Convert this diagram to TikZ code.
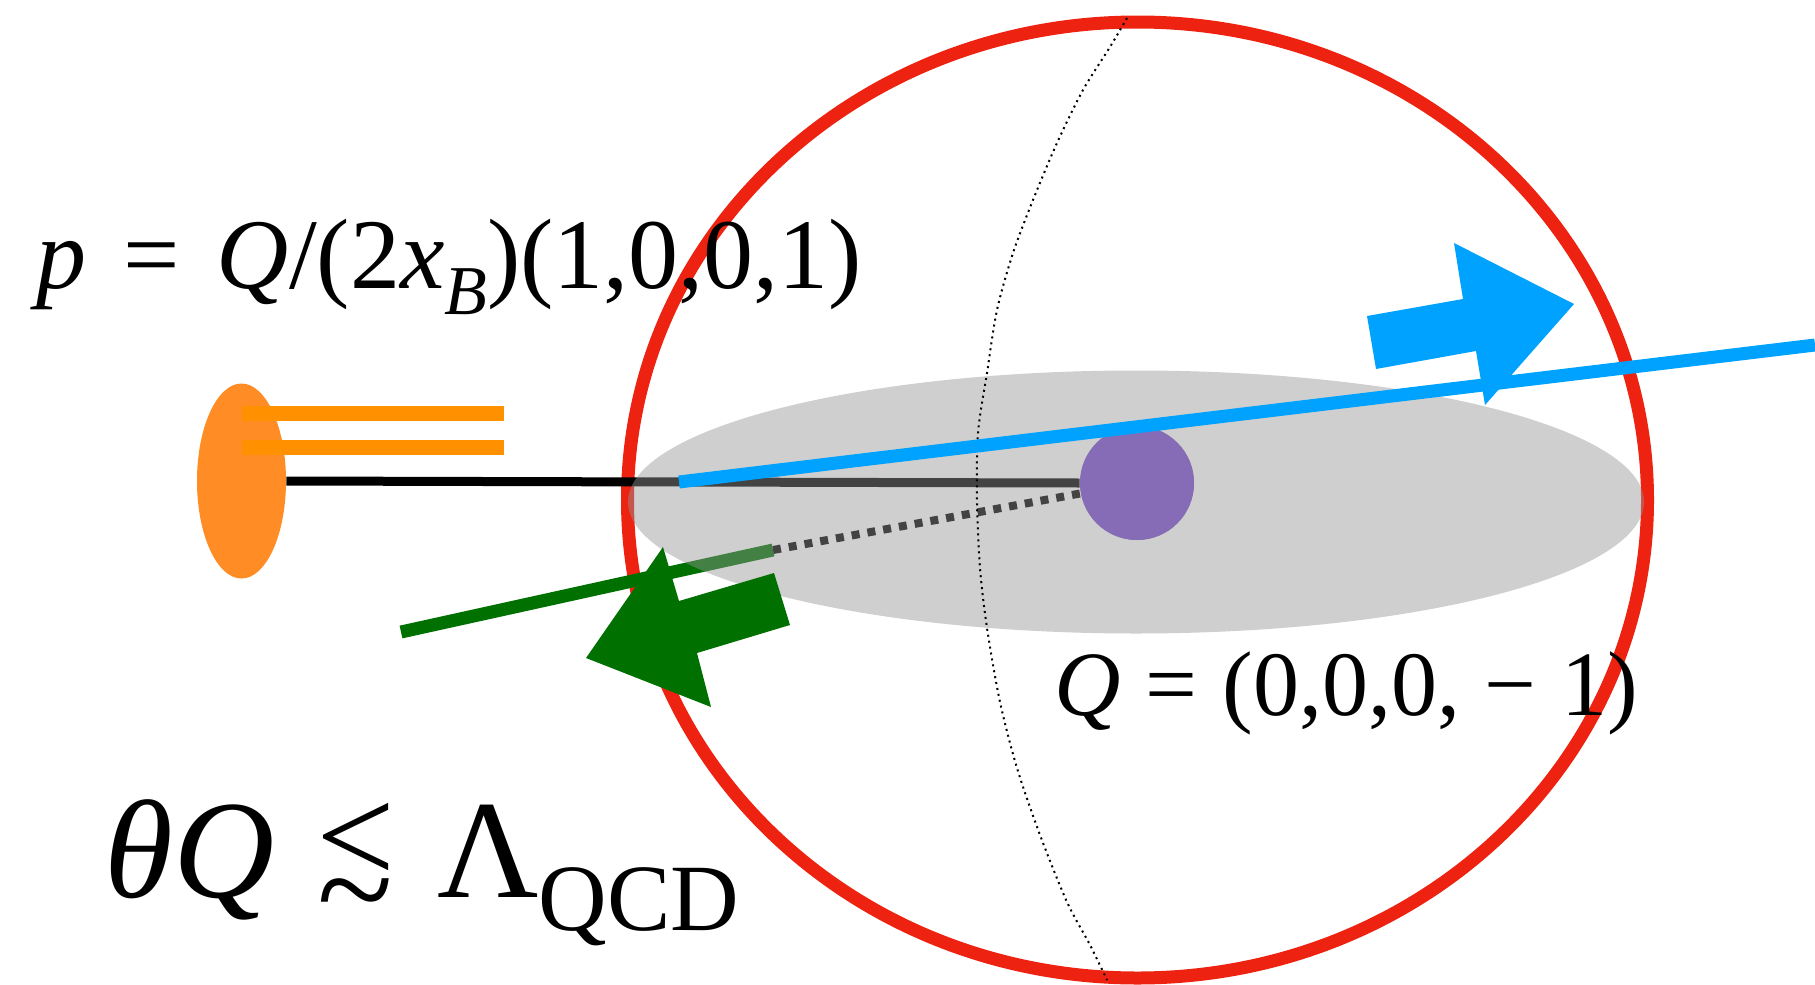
\documentclass[tikz,border=0pt]{standalone}
\usepackage{fontspec}
\setmainfont{Liberation Serif}
\usetikzlibrary{shapes.geometric}

\definecolor{sphere}{RGB}{238,34,17}
\definecolor{protonc}{RGB}{255,140,36}
\definecolor{quarkc}{RGB}{255,145,0}
\definecolor{veil}{RGB}{149,149,149}
\definecolor{partonc}{RGB}{134,108,182}
\definecolor{outc}{RGB}{0,162,255}
\definecolor{inc}{RGB}{0,112,0}

\newcommand{\lsim}{\ooalign{\raisebox{.1em}{<}\cr\hidewidth\raisebox{-.28em}{\char126}\hidewidth\cr}}
\newcommand{\gap}{\hspace{.37em}}

\begin{document}
\begin{tikzpicture}[x=0.5pt, y=-0.5pt,
  label/.style={anchor=base west, inner sep=0pt, font=\fontsize{46}{55}\selectfont},
  biglabel/.style={anchor=base west, inner sep=0pt, font=\fontsize{70}{84}\selectfont}]

\useasboundingbox (0,0) rectangle (1815,985);

% Sphere
\draw[sphere, line width=6.5pt] (1137.5,500) ellipse [x radius=510, y radius=478];

% Proton and parton
\node[ellipse, fill=protonc, inner sep=0pt, minimum width=44.5pt, minimum height=97.5pt] (proton) at (241.5,481) {};
\node[circle, fill=partonc, inner sep=0pt, minimum size=57pt] (parton) at (1137,483) {};

% Spectator quarks
\foreach \y in {413,447} {
  \draw[quarkc, line width=7.5pt] (242,\y) -- (504,\y);
}

% Incoming line
\draw[black, line width=4.5pt] (proton.east) -- (parton.west);

% Green line (under the veil)
\coordinate (gtail) at (401,632);
\coordinate (gend) at (773,550);
\draw[inc, line width=6.5pt] (gtail) -- (gend);
\draw[black, line width=4pt, dash pattern=on 4pt off 4pt] (gend) -- (parton);

% Veil
\fill[veil, opacity=0.455] (1136,502) ellipse [x radius=508, y radius=131.5];

% Parton again on top
\node[circle, fill=partonc, inner sep=0pt, minimum size=57pt] (partontop) at (parton) {};

% Meridian
\draw[black, line width=1pt, dotted] plot[smooth] coordinates {
  (1127,18) (1110,47) (1083,90) (1057,143) (1033,200) (1013,253) (997,310)
  (987,373) (978,433) (977,500) (980,568) (987,628) (1000,702) (1017,768)
  (1040,835) (1067,902) (1090,945) (1107,980)};

% Outgoing line
\coordinate (blueA) at (679,482);
\coordinate (blueB) at (1815,345);
\draw[outc, line width=6.5pt] (blueA) -- (blueB);

% Block arrows
\fill[outc] (1367,316) -- (1463,299) -- (1454,243) -- (1574,304) -- (1485,405) -- (1476,351) -- (1376,369) -- cycle;
\fill[inc] (663,547) -- (679,601) -- (774,573) -- (790,625) -- (697,653) -- (711,707) -- (586,658) -- cycle;

% Labels
\node[label, font=\fontsize{50}{60}\selectfont] (pmom) at (36,288) {\textit{p}\gap=\gap\textit{Q}/(2\textit{x}\raisebox{-.26em}{\fontsize{35}{42}\selectfont\textit{B}})(1,0,0,1)};
\node[label] (qmom) at (1054,715) {\textit{Q}\hspace{.27em}=\hspace{.27em}(0,0,0,\hspace{.27em}−\hspace{.27em}1)};
\node[biglabel] (bound) at (104,897) {\textit{θQ}\hspace{.3em}\lsim\hspace{.3em}Λ\raisebox{-.24em}{\fontsize{47.5}{56}\selectfont QCD}};

\end{tikzpicture}
\end{document}
